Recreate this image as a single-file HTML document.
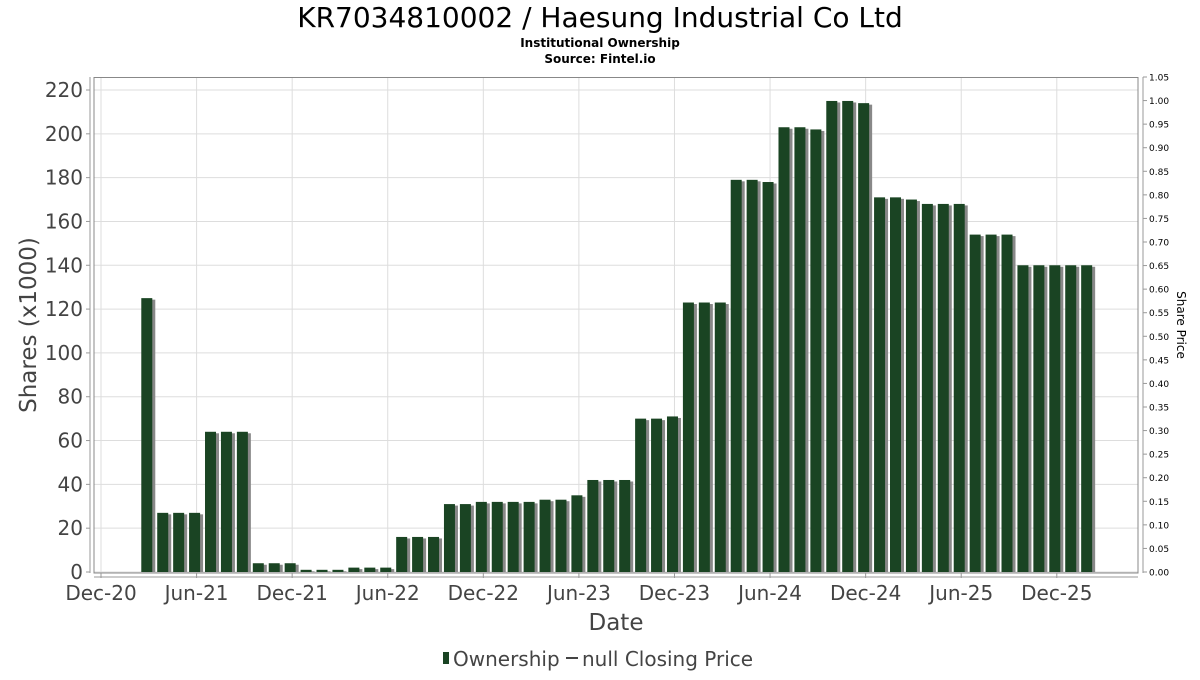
<!DOCTYPE html>
<html><head><meta charset="utf-8"><style>
body{margin:0;background:#fff;}
svg text{font-family:"DejaVu Sans","Liberation Sans",sans-serif;}
</style></head><body>
<svg id="chart" width="1200" height="675" xmlns="http://www.w3.org/2000/svg">
<text x="600" y="27" text-anchor="middle" font-size="28" fill="#000">KR7034810002 / Haesung Industrial Co Ltd</text>
<text x="600" y="47" text-anchor="middle" font-size="12" font-weight="bold" fill="#000">Institutional Ownership</text>
<text x="600" y="63" text-anchor="middle" font-size="12" font-weight="bold" fill="#000">Source: Fintel.io</text>
<g id="grid"></g>
<g id="bars"></g>
<rect x="94" y="77.5" width="1044" height="495.5" fill="none" stroke="#888" stroke-width="1"/>
<g id="axes"></g>
<text transform="translate(36,325) rotate(-90)" text-anchor="middle" font-size="23" fill="#444">Shares (x1000)</text>
<text transform="translate(1177,325) rotate(90)" text-anchor="middle" font-size="12" fill="#000">Share Price</text>
<text x="616" y="630" text-anchor="middle" font-size="23" fill="#444">Date</text>
<g>
<rect x="443" y="652" width="6" height="12" fill="#1a4423"/>
<text x="453" y="666" font-size="20" fill="#444">Ownership</text>
<line x1="566" y1="658" x2="578" y2="658" stroke="#444" stroke-width="2"/>
<text x="582" y="666" font-size="20" fill="#444">null Closing Price</text>
</g>
</svg>
<script>
const values = [125,27,27,27,64,64,64,4,4,4,1,1,1,2,2,2,16,16,16,31,31,32,32,32,32,33,33,35,42,42,42,70,70,71,123,123,123,179,179,178,203,203,202,215,215,214,171,171,170,168,168,168,154,154,154,140,140,140,140,140];
const yTicks = [0,20,40,60,80,100,120,140,160,180,200,220];
const y2Ticks = ["0.00","0.05","0.10","0.15","0.20","0.25","0.30","0.35","0.40","0.45","0.50","0.55","0.60","0.65","0.70","0.75","0.80","0.85","0.90","0.95","1.00","1.05"];
const xLabels = ["Dec-20","Jun-21","Dec-21","Jun-22","Dec-22","Jun-23","Dec-23","Jun-24","Dec-24","Jun-25","Dec-25"];
const NS="http://www.w3.org/2000/svg";
const y0=572, yTop=90, yMax=220;
function yS(v){return y0-(v/yMax)*(y0-yTop);}
function y2S(v){return y0-(v/1.05)*(y0-77);}
function xMonth(m){return 101+m*15.93;}
function mk(tag,attrs,parent){const e=document.createElementNS(NS,tag);for(const k in attrs)e.setAttribute(k,attrs[k]);parent.appendChild(e);return e;}
const grid=document.getElementById('grid'),bars=document.getElementById('bars'),axes=document.getElementById('axes');
yTicks.forEach(v=>{
  const y=yS(v);
  const l=mk('line',{x1:94,x2:1138,y1:y,y2:y,stroke:'#ddd','stroke-width':1},grid);
  
  
  mk('line',{x1:86,x2:90,y1:y,y2:y,stroke:'#999'},axes);
  const t=mk('text',{x:83,y:y+7,'text-anchor':'end','font-size':20,fill:'#444'},axes);
  t.textContent=v;
  
  
});
mk('line',{x1:90,x2:90,y1:77,y2:573,stroke:'#999'},axes);
y2Ticks.forEach(s=>{
  const y=y2S(parseFloat(s));
  mk('line',{x1:1143,x2:1147,y1:y,y2:y,stroke:'#999'},axes);
  const t=mk('text',{x:1149,y:y+3.5,'font-size':9,fill:'#000'},axes);
  t.textContent=s;
  
  
});
mk('line',{x1:1143,x2:1143,y1:77,y2:573,stroke:'#999'},axes);
xLabels.forEach((s,i)=>{
  const x=xMonth(i*6);
  const l=mk('line',{x1:x,x2:x,y1:77.5,y2:573,stroke:'#ddd'},grid);
  
  
  mk('line',{x1:x,x2:x,y1:573,y2:578,stroke:'#999'},axes);
  const t=mk('text',{x:x,y:600,'text-anchor':'middle','font-size':20,fill:'#444'},axes);
  t.textContent=s;
  
  
});
mk('line',{x1:94,x2:1138,y1:577,y2:577,stroke:'#999'},axes);
values.forEach((v,i)=>{
  const cx=xMonth(i+3)-1.5;
  const y=yS(v);
  mk('rect',{x:cx-5,y:y+1.5,width:13,height:y0-y-1.5,fill:'#888'},bars);
  const r=mk('rect',{x:cx-6,y:y,width:11,height:y0-y,fill:'#1a4423'},bars);
  
  
});
</script>
</body></html>
